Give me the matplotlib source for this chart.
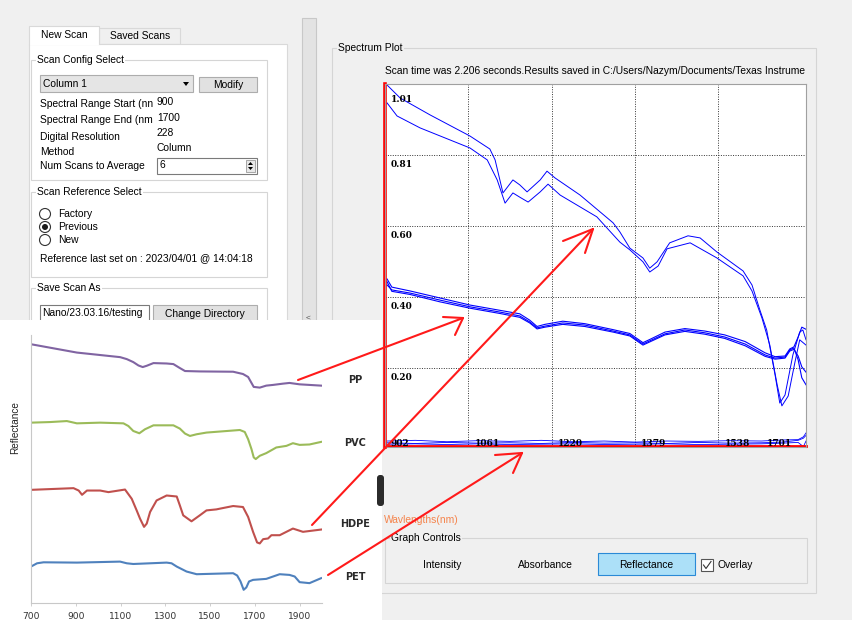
import matplotlib
matplotlib.use('Agg')
import matplotlib.pyplot as plt
from matplotlib.patches import Rectangle, Circle, Polygon, FancyBboxPatch

plt.rcParams['font.family'] = ['Liberation Sans', 'DejaVu Sans']

W, H = 853, 620
FS = 7.4
BG = '#f0f0f0'

# ---- settings shown in the scan panel
config_labels = ['Spectral Range Start (nn', 'Spectral Range End (nm', 'Digital Resolution',
                 'Method', 'Num Scans to Average']
config_values = ['900', '1700', '228', 'Column']
num_scans = '6'
reference_options = ['Factory', 'Previous', 'New']
reference_selected = 'Previous'
reference_time = 'Reference last set on : 2023/04/01 @ 14:04:18'
save_path = 'Nano/23.03.16/testing'
graph_modes = ['Intensity', 'Absorbance', 'Reflectance']
scan_message = ('Scan time was 2.206 seconds.Results saved in '
                'C:/Users/Nazym/Documents/Texas Instrume')

# ---- overlaid reflectance scans (wavelength nm, reflectance)
wl_a = [906, 931, 988, 1064, 1102, 1112, 1127, 1146, 1159, 1173, 1198, 1211, 1226, 1274,
        1337, 1350, 1369, 1394, 1407, 1421, 1445, 1480, 1503, 1535, 1585, 1602, 1617, 1630,
        1646, 1655, 1665, 1680, 1693, 1699, 1705]
refl_a = [1.007, 0.970, 0.922, 0.862, 0.825, 0.794, 0.700, 0.737, 0.723, 0.703, 0.737, 0.762,
          0.743, 0.694, 0.615, 0.589, 0.543, 0.515, 0.486, 0.504, 0.558, 0.578, 0.572, 0.532,
          0.478, 0.438, 0.367, 0.310, 0.182, 0.102, 0.125, 0.239, 0.304, 0.310, 0.282]

wl_b = [906, 925, 969, 1064, 1097, 1116, 1131, 1146, 1159, 1175, 1198, 1213, 1236, 1306,
        1350, 1369, 1394, 1407, 1423, 1440, 1484, 1535, 1585, 1602, 1621, 1636, 1650, 1659,
        1671, 1684, 1693, 1705]
refl_b = [0.956, 0.919, 0.885, 0.828, 0.794, 0.737, 0.671, 0.700, 0.688, 0.674, 0.703, 0.725,
          0.694, 0.632, 0.560, 0.538, 0.504, 0.475, 0.492, 0.541, 0.558, 0.515, 0.464, 0.421,
          0.344, 0.267, 0.154, 0.094, 0.122, 0.219, 0.282, 0.267]

wl_band = [906, 915, 950, 1007, 1064, 1121, 1159, 1178, 1192, 1207, 1241, 1283, 1337, 1369,
           1394, 1407, 1436, 1474, 1512, 1550, 1589, 1627, 1646, 1665, 1674, 1682, 1690,
           1697, 1705]
refl_band1 = [0.438, 0.424, 0.415, 0.395, 0.376, 0.361, 0.350, 0.333, 0.316, 0.321, 0.330,
              0.324, 0.307, 0.296, 0.270, 0.279, 0.299, 0.310, 0.302, 0.290, 0.270, 0.239,
              0.230, 0.233, 0.253, 0.259, 0.225, 0.174, 0.154]
refl_band2 = [0.455, 0.432, 0.421, 0.401, 0.381, 0.366, 0.356, 0.338, 0.320, 0.326, 0.335,
              0.328, 0.311, 0.300, 0.274, 0.283, 0.304, 0.314, 0.307, 0.296, 0.277, 0.245,
              0.234, 0.236, 0.256, 0.262, 0.290, 0.318, 0.312]
refl_band3 = [0.447, 0.420, 0.411, 0.390, 0.372, 0.357, 0.346, 0.330, 0.313, 0.318, 0.326,
              0.320, 0.304, 0.293, 0.267, 0.276, 0.296, 0.306, 0.298, 0.286, 0.265, 0.235,
              0.227, 0.230, 0.250, 0.255, 0.236, 0.205, 0.190]

wl_base = [906, 960, 1020, 1080, 1140, 1200, 1260, 1320, 1380, 1440, 1500, 1560, 1620, 1660,
           1690, 1700, 1705]
refl_base1 = [-0.006, -0.004, -0.008, -0.005, -0.007, -0.004, -0.008, -0.006, -0.009, -0.006,
              -0.007, -0.005, -0.006, -0.003, -0.002, 0.006, 0.017]
refl_base2 = [-0.011, -0.013, -0.010, -0.012, -0.011, -0.013, -0.010, -0.012, -0.011, -0.013,
              -0.010, -0.012, -0.011, -0.009, -0.004, 0.002, 0.010]
refl_base3 = [-0.015, -0.014, -0.016, -0.014, -0.016, -0.015, -0.014, -0.016, -0.015, -0.014,
              -0.016, -0.015, -0.014, -0.012, -0.010, -0.022, -0.006]

grid_wl = [1061, 1220, 1379, 1538]
x_label_wl = [902, 1061, 1220, 1379, 1538]
x_label_text = ['902', '1061', '1220', '1379', '1538']
last_x_label = '1701'
grid_refl = [0.202, 0.404, 0.606, 0.808, 1.01]
y_label_text = ['0.20', '0.40', '0.60', '0.81', '1.01']

# ---- reference spectra of plastics (stacked, arbitrary offset)
pp_wl = [700, 905, 1098, 1128, 1157, 1180, 1199, 1217, 1247, 1306, 1336, 1365, 1388, 1454,
         1603, 1647, 1670, 1685, 1695, 1722, 1751, 1781, 1826, 1855, 1900, 1996]
pp = [260.7, 252.3, 247.7, 245.7, 242.7, 239.3, 237.7, 239.0, 241.7, 241.3, 240.7, 236.7,
      233.7, 233.3, 233.0, 230.7, 227.7, 221.7, 217.7, 217.0, 219.0, 219.7, 221.0, 221.7,
      220.3, 219.0]

pvc_wl = [700, 786, 860, 905, 1009, 1113, 1135, 1157, 1184, 1209, 1247, 1336, 1365, 1388,
          1410, 1440, 1484, 1633, 1655, 1670, 1685, 1695, 1704, 1722, 1751, 1796, 1841, 1870,
          1900, 1944, 1996]
pvc = [181.7, 182.3, 183.3, 181.0, 181.7, 181.0, 178.3, 173.3, 171.0, 175.0, 179.0, 179.0,
       175.7, 170.7, 168.3, 170.0, 171.7, 174.3, 172.3, 165.0, 155.0, 146.7, 145.0, 148.3,
       151.0, 156.7, 158.3, 161.0, 159.3, 159.7, 162.3]

hdpe_wl = [700, 890, 913, 928, 950, 1009, 1046, 1120, 1150, 1172, 1187, 1205, 1217, 1232,
           1261, 1306, 1351, 1365, 1380, 1417, 1454, 1484, 1528, 1543, 1603, 1647, 1670, 1692,
           1710, 1722, 1737, 1759, 1774, 1811, 1855, 1870, 1915, 1996]
hdpe = [114.0, 115.7, 113.3, 109.0, 113.3, 113.3, 111.7, 114.3, 105.0, 93.3, 85.0, 76.7,
        80.0, 91.7, 103.3, 108.3, 107.3, 98.3, 88.3, 82.3, 88.3, 93.3, 94.3, 95.0, 97.7, 96.7,
        86.7, 71.7, 61.0, 60.0, 64.3, 65.0, 68.3, 68.3, 73.3, 75.0, 71.7, 74.0]

pet_wl = [700, 727, 756, 905, 1098, 1128, 1157, 1306, 1328, 1351, 1395, 1440, 1603, 1621,
          1636, 1650, 1662, 1674, 1692, 1751, 1811, 1855, 1878, 1900, 1944, 1996]
pet = [36.7, 40.0, 41.0, 40.7, 41.7, 40.0, 39.3, 40.7, 40.0, 36.7, 31.7, 29.0, 30.0, 27.7,
       21.7, 13.3, 15.7, 21.7, 23.3, 24.3, 29.0, 28.3, 26.7, 21.0, 20.0, 25.0]

plastic_names = ['PP', 'PVC', 'HDPE', 'PET']
plastic_colors = ['#8064a2', '#9bbb59', '#c0504d', '#4f81bd']
inset_ticks = [700, 900, 1100, 1300, 1500, 1700, 1900]


def group_box(ax, x, y, w, h, label, face):
    ax.add_patch(Rectangle((x, y), w, h, fill=False, ec='#d5d5d5', lw=0.8))
    ax.text(x + 6, y, label, fontsize=FS, va='center', ha='left',
            bbox=dict(fc=face, ec='none', pad=0.8))


def button(ax, x, y, w, h, label, face='#e1e1e1', edge='#adadad'):
    ax.add_patch(Rectangle((x, y), w, h, fc=face, ec=edge, lw=0.8))
    ax.text(x + w / 2, y + h / 2 + 0.5, label, fontsize=FS, ha='center', va='center')


fig = plt.figure(figsize=(W / 100, H / 100), dpi=100)
fig.patch.set_facecolor(BG)

# pixel-space layer for the window widgets
ui = fig.add_axes([0, 0, 1, 1], zorder=0)
ui.set_xlim(0, W)
ui.set_ylim(H, 0)
ui.axis('off')

# tabs and left panel
ui.add_patch(Rectangle((99, 28), 81, 16, fc=BG, ec='#d9d9d9', lw=0.8))
ui.add_patch(Rectangle((29, 44), 258, 290, fc='white', ec='#d9d9d9', lw=0.8))
ui.add_patch(Rectangle((29, 26), 70, 19, fc='white', ec='none'))
ui.plot([29, 29, 99, 99], [44, 26, 26, 44], color='#d9d9d9', lw=0.8)
ui.text(64, 35, 'New Scan', fontsize=FS, ha='center', va='center')
ui.text(140, 36, 'Saved Scans', fontsize=FS, ha='center', va='center')

group_box(ui, 31, 60, 236, 120, 'Scan Config Select', 'white')
ui.add_patch(Rectangle((40, 75), 153, 17, fc='#e5e5e5', ec='#adadad', lw=0.8))
ui.text(43, 84, 'Column 1', fontsize=FS, va='center')
ui.add_patch(Polygon([(183, 82), (189, 82), (186, 86)], closed=True, fc='black', ec='none'))
button(ui, 199, 77, 58, 15, 'Modify')

label_rows = [104, 120, 137, 152, 166]
value_rows = [102, 118, 133, 148]
for label, yy in zip(config_labels, label_rows):
    ui.text(40, yy, label, fontsize=FS, va='center')
for value, yy in zip(config_values, value_rows):
    ui.text(157, yy, value, fontsize=FS, va='center')
ui.add_patch(Rectangle((157, 158), 100, 16, fc='white', ec='#7a7a7a', lw=0.8))
ui.text(160, 165, num_scans, fontsize=FS, va='center')
ui.add_patch(Rectangle((246, 160), 9, 12, fc='#e8e8e8', ec='#9a9a9a', lw=0.6))
ui.add_patch(Polygon([(248, 165), (253, 165), (250.5, 162)], closed=True, fc='black'))
ui.add_patch(Polygon([(248, 167), (253, 167), (250.5, 170)], closed=True, fc='black'))

group_box(ui, 31, 192, 236, 85, 'Scan Reference Select', 'white')
for opt, yy in zip(reference_options, [214, 227, 240]):
    ui.add_patch(Circle((45, yy), 5.5, fc='white', ec='#333333', lw=0.8))
    if opt == reference_selected:
        ui.add_patch(Circle((45, yy), 3, fc='#1a1a1a', ec='none'))
    ui.text(58, yy, opt, fontsize=FS, va='center')
ui.text(40, 258, reference_time, fontsize=FS, va='center')

group_box(ui, 31, 288, 236, 60, 'Save Scan As', 'white')
ui.add_patch(Rectangle((40, 305), 109, 17, fc='white', ec='#7a7a7a', lw=0.8))
ui.text(42, 313, save_path, fontsize=FS, va='center')
button(ui, 153, 305, 104, 17, 'Change Directory')

# splitter bar
ui.add_patch(Rectangle((302, 18), 14, 310, fc='#e3e3e3', ec='#c8c8c8', lw=0.8))
ui.text(308, 318, '<', fontsize=6, ha='center', va='center', color='#555555')

# spectrum group
group_box(ui, 332, 48, 484, 545, 'Spectrum Plot', BG)
ui.text(385, 71, scan_message, fontsize=FS, va='center')

ui.text(384, 520, 'Wavlengths(nm)', fontsize=FS, va='center', color='#f5844c')
group_box(ui, 385, 538, 422, 45, 'Graph Controls', BG)
for mode, xc in zip(graph_modes, [442, 545, 646]):
    if mode == 'Reflectance':
        button(ui, 598, 553, 97, 22, mode, face='#ace0f8', edge='#2b8ad6')
    else:
        ui.text(xc, 565, mode, fontsize=FS, ha='center', va='center')
ui.add_patch(Rectangle((701, 559), 12, 12, fc='white', ec='#555555', lw=0.8))
ui.plot([703.5, 706, 711], [565, 568.5, 561.5], color='#333333', lw=0.8)
ui.text(718, 565, 'Overlay', fontsize=FS, va='center')

# white reference-figure sheet with plastic labels
ui.add_patch(Rectangle((0, 320), 382, 300, fc='white', ec='none', zorder=5))
ui.text(15, 428, 'Reflectance', fontsize=7.2, rotation=90, ha='center', va='center',
        color='#222222', zorder=6)
for name, yy in zip(plastic_names, [380, 443, 524, 577]):
    ui.text(355, yy, name, fontsize=7, fontweight='bold', family='DejaVu Sans',
            ha='center', va='center', color='#2a2a2a', zorder=6)

# ---- spectrum plot
ax = fig.add_axes([385 / W, (H - 447) / H, 421 / W, 363 / H], zorder=1)
ax.set_facecolor('white')
ax.set_xlim(902, 1705)
ax.set_ylim(-0.023, 1.01)
ax.set_xticks([])
ax.set_yticks([])
for s in ax.spines.values():
    s.set_color('#a0a0a0')
    s.set_linewidth(0.8)

for gx in grid_wl:
    ax.axvline(gx, color='#333333', lw=0.7, ls=(0, (1, 1.5)))
for gy in grid_refl[:-1]:
    ax.axhline(gy, color='#333333', lw=0.7, ls=(0, (1, 1.5)))

blue = '#0000ff'
ax.plot(wl_a, refl_a, color=blue, lw=0.7)
ax.plot(wl_b, refl_b, color=blue, lw=0.7)
for band in (refl_band1, refl_band2, refl_band3):
    ax.plot(wl_band, band, color=blue, lw=0.8)
for base in (refl_base1, refl_base2, refl_base3):
    ax.plot(wl_base, base, color=blue, lw=0.6)

lab_font = dict(family='DejaVu Serif', fontweight='bold', fontsize=6.5, color='black')
for gy, txt in zip(grid_refl, y_label_text):
    off = -15 if txt == '1.01' else -10
    ax.annotate(txt, xy=(0, gy), xycoords=('axes fraction', 'data'),
                xytext=(6, off), textcoords='offset pixels', va='center', **lab_font)
for gx, txt in zip(x_label_wl, x_label_text):
    ax.annotate(txt, xy=(gx, 0), xycoords=('data', 'axes fraction'),
                xytext=(6, 4), textcoords='offset pixels', va='center', **lab_font)
ax.annotate(last_x_label, xy=(1, 0), xycoords='axes fraction',
            xytext=(-14, 4), textcoords='offset pixels', va='center', ha='right', **lab_font)

# red marker lines along the wavelength and reflectance axes
ax.plot([0, 0], [0, 1], transform=ax.transAxes, color='#ff0000', lw=2.6, clip_on=False)
ax.plot([0, 1], [0.004, 0.004], transform=ax.transAxes, color='#ff0000', lw=2.0,
        clip_on=False)

# ---- reference spectra of plastics
ax2 = fig.add_axes([31 / W, 17 / H, 291 / W, 268 / H], zorder=2)
ax2.set_facecolor('none')
ax2.set_xlim(700, 2000)
ax2.set_ylim(0, 270)
for wl, vals, col in zip([pp_wl, pvc_wl, hdpe_wl, pet_wl], [pp, pvc, hdpe, pet], plastic_colors):
    ax2.plot(wl, vals, color=col, lw=1.5, solid_joinstyle='round')
ax2.spines['top'].set_visible(False)
ax2.spines['right'].set_visible(False)
ax2.spines['left'].set_color('#c8c8c8')
ax2.spines['bottom'].set_color('#c8c8c8')
ax2.set_yticks([])
ax2.set_xticks(inset_ticks)
ax2.tick_params(axis='x', length=2.2, width=0.6, color='#c8c8c8', pad=4.5)
for lbl in ax2.get_xticklabels():
    lbl.set_family('DejaVu Sans')
    lbl.set_fontsize(6.6)
    lbl.set_color('#333333')

# ---- hand-drawn red arrows on top
top = fig.add_axes([0, 0, 1, 1], zorder=10)
top.set_xlim(0, W)
top.set_ylim(H, 0)
top.axis('off')
top.add_patch(FancyBboxPatch((377, 475), 7, 31, boxstyle='round,pad=0,rounding_size=3',
                             fc='#2b2b2b', ec='none'))
arrows = [
    ((298, 380), (463, 318), [(443, 317), (455, 335)]),
    ((312, 525), (593, 229), [(563, 241), (585, 253)]),
    ((328, 575), (522, 453), [(495, 455), (513, 473)]),
]
for start, tip, barbs in arrows:
    top.plot([start[0], tip[0]], [start[1], tip[1]], color='#ff1a1a', lw=1.5,
             solid_capstyle='round')
    for bx, by in barbs:
        top.plot([bx, tip[0]], [by, tip[1]], color='#ff1a1a', lw=1.5, solid_capstyle='round')

fig.savefig('out.png', dpi=100, facecolor=BG)
